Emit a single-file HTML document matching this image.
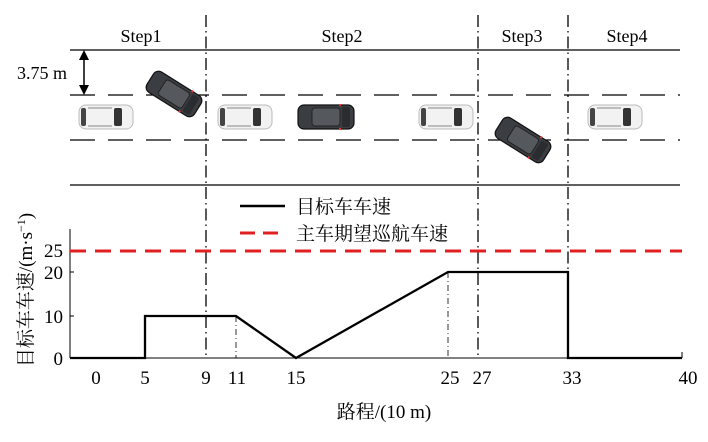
<!DOCTYPE html>
<html><head><meta charset="utf-8"><style>
body{margin:0;background:#fff;}
svg text{font-family:"Liberation Serif","Noto Serif CJK SC",serif;}
</style></head><body>
<svg width="708" height="437" viewBox="0 0 708 437" xmlns="http://www.w3.org/2000/svg">
<defs>
<g id="wc">
<rect x="-27" y="-12" width="54" height="24" rx="7" fill="#f2f2f2" stroke="#bbb" stroke-width="1"/>
<rect x="-25" y="-9" width="5" height="18" rx="2" fill="#444"/>
<rect x="8" y="-9" width="8" height="18" rx="2" fill="#333"/>
<line x1="-18" y1="-9" x2="6" y2="-9" stroke="#888"/>
<line x1="-18" y1="9" x2="6" y2="9" stroke="#888"/>
</g>
<g id="dc">
<rect x="-28" y="-12" width="56" height="24" rx="6" fill="#3a3d42" stroke="#111" stroke-width="1.2"/>
<rect x="-14" y="-9" width="28" height="18" rx="3" fill="#55585d" stroke="#222"/>
<rect x="16" y="-10" width="8" height="20" rx="2" fill="#2a2c30"/>
<line x1="14" y1="-13" x2="14" y2="-11" stroke="#e33" stroke-width="2"/>
<line x1="14" y1="11" x2="14" y2="13" stroke="#e33" stroke-width="2"/>
</g>
</defs>
<line x1="70" y1="50" x2="680" y2="50" stroke="#000" stroke-width="1.3"/>
<line x1="70" y1="185" x2="680" y2="185" stroke="#000" stroke-width="1.3"/>
<line x1="70" y1="95" x2="680" y2="95" stroke="#000" stroke-width="1.3" stroke-dasharray="25,13"/>
<line x1="70" y1="140" x2="680" y2="140" stroke="#000" stroke-width="1.3" stroke-dasharray="25,13"/>
<line x1="84" y1="58" x2="84" y2="87" stroke="#000" stroke-width="1.5"/>
<polygon points="84,50 79,60 89,60" fill="#000"/>
<polygon points="84,95 79,85 89,85" fill="#000"/>
<text x="17" y="79" font-size="18">3.75 m</text>
<text x="141" y="42" font-size="18" text-anchor="middle">Step1</text>
<text x="342" y="42" font-size="18" text-anchor="middle">Step2</text>
<text x="522" y="42" font-size="18" text-anchor="middle">Step3</text>
<text x="627" y="42" font-size="18" text-anchor="middle">Step4</text>
<use href="#wc" transform="translate(106,117)"/>
<use href="#wc" transform="translate(245,117)"/>
<use href="#wc" transform="translate(446,117)"/>
<use href="#wc" transform="translate(615,117)"/>
<use href="#dc" transform="translate(326,117)"/>
<use href="#dc" transform="translate(174,94) rotate(32)"/>
<use href="#dc" transform="translate(523,140) rotate(32)"/>
<g stroke="#000" stroke-width="1.3" stroke-dasharray="12,4,1.5,4">
<line x1="206" y1="15" x2="206" y2="358"/>
<line x1="478" y1="15" x2="478" y2="358"/>
<line x1="568" y1="15" x2="568" y2="358"/>
</g>
<g stroke="#000" stroke-width="0.8" stroke-dasharray="6,3,1,3">
<line x1="236" y1="316" x2="236" y2="358"/>
<line x1="448" y1="272" x2="448" y2="358"/>
</g>
<line x1="70" y1="229" x2="70" y2="358" stroke="#000" stroke-width="1"/>
<line x1="70" y1="358" x2="682" y2="358" stroke="#000" stroke-width="1"/>
<g stroke="#000" stroke-width="1">
<line x1="682" y1="352" x2="682" y2="358"/>
<line x1="70" y1="251" x2="74" y2="251"/><line x1="70" y1="272" x2="74" y2="272"/><line x1="70" y1="316" x2="74" y2="316"/>
</g>
<g font-size="19" text-anchor="end">
<text x="63" y="257">25</text><text x="63" y="279">20</text><text x="63" y="323">10</text><text x="63" y="365">0</text>
</g>
<g font-size="19" text-anchor="middle">
<text x="96" y="384">0</text><text x="145" y="384">5</text><text x="206" y="384">9</text><text x="237" y="384">11</text>
<text x="296" y="384">15</text><text x="450" y="384">25</text><text x="482" y="384">27</text><text x="572" y="384">33</text><text x="688" y="384">40</text>
<text x="384" y="418" font-size="19">路程/(10 m)</text>
</g>
<text transform="translate(32,290) rotate(-90)" font-size="19" text-anchor="middle">目标车车速/(m·s<tspan font-size="12" dy="-7">−1</tspan><tspan dy="7">)</tspan></text>
<line x1="70" y1="251" x2="682" y2="251" stroke="#e02020" stroke-width="3" stroke-dasharray="16,9"/>
<polyline points="70,358 145,358 145,316 236,316 296,358 448,272 568,272 568,358 682,358" fill="none" stroke="#000" stroke-width="2.3"/>
<line x1="240" y1="206" x2="285" y2="206" stroke="#000" stroke-width="2.5"/>
<text x="296" y="213" font-size="19">目标车车速</text>
<line x1="240" y1="233" x2="285" y2="233" stroke="#e02020" stroke-width="3" stroke-dasharray="15,8"/>
<text x="296" y="240" font-size="19">主车期望巡航车速</text>
</svg>
</body></html>
